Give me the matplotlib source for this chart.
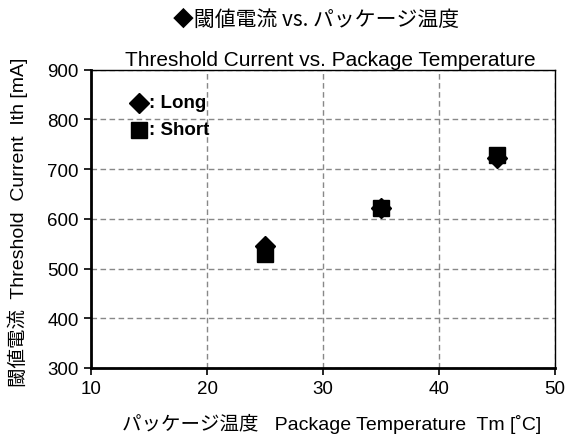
import matplotlib
matplotlib.use("Agg")
import matplotlib.pyplot as plt

temps = [25, 35, 45]
long_ith = [545, 622, 722]
short_ith = [530, 622, 729]
xticks = [10, 20, 30, 40, 50]
yticks = [300, 400, 500, 600, 700, 800, 900]

FAM = ['Liberation Sans', 'Noto Sans CJK JP', 'DejaVu Sans']
plt.rcParams['font.family'] = FAM

fig = plt.figure(figsize=(5.7, 4.39), dpi=100)
ax = fig.add_axes([91/570, 1-369/439, (555-91)/570, (369-70.7)/439])

ax.plot(temps, long_ith, linestyle='none', marker='D', markersize=10, color='black', zorder=3)
ax.plot(temps, short_ith, linestyle='none', marker='s', markersize=12, color='black', zorder=4)

ax.set_xlim(10, 50)
ax.set_ylim(300, 900)
ax.set_xticks(xticks)
ax.set_yticks(yticks)
ax.grid(True, color='#888888', linestyle=(0, (4, 2.5)), linewidth=1.0)
ax.set_axisbelow(True)
for s in ['left', 'bottom']:
    ax.spines[s].set_linewidth(2)
for s in ['top', 'right']:
    ax.spines[s].set_linewidth(1)
ax.tick_params(direction='out', length=5, width=1.2, labelsize=13.5, pad=4, colors='black')

# in-plot legend: symbol + label
ax.plot([0.103], [0.889], transform=ax.transAxes, marker='D', markersize=10, color='black',
        linestyle='none', clip_on=False)
ax.plot([0.103], [0.799], transform=ax.transAxes, marker='s', markersize=11.5, color='black',
        linestyle='none', clip_on=False)
ax.text(0.125, 0.889, ': Long', transform=ax.transAxes, fontsize=13.5, fontweight='bold',
        family=['Liberation Sans'], va='center')
ax.text(0.125, 0.799, ': Short', transform=ax.transAxes, fontsize=13.5, fontweight='bold',
        family=['Liberation Sans'], va='center')

fig.text(316/570, 1-20/439, '◆閾値電流 vs. パッケージ温度', ha='center', va='center', fontsize=15,
         family=['Noto Sans CJK JP', 'DejaVu Sans'])
fig.text(330/570, 1-60/439, 'Threshold Current vs. Package Temperature', ha='center', va='center', fontsize=15)
fig.text(332/570, 1-424/439, 'パッケージ温度   Package Temperature  Tm [˚C]', ha='center', va='center', fontsize=14,
         family=FAM)
fig.text(18/570, 1-222/439, '閾値電流  Threshold  Current  Ith [mA]', ha='center', va='center', fontsize=14,
         rotation=90, family=FAM)

fig.savefig('out.png', dpi=100)
